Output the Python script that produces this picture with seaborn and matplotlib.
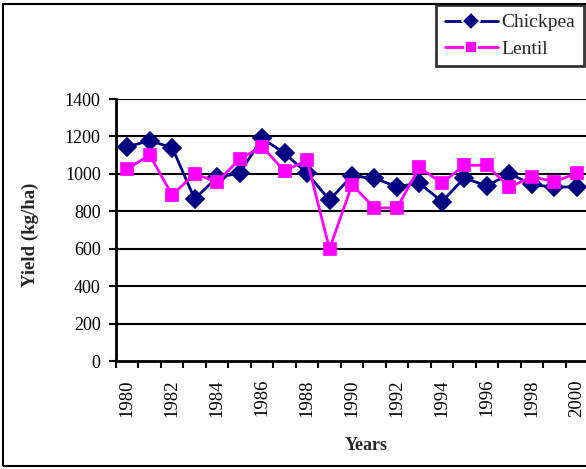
import matplotlib
matplotlib.use("Agg")
import matplotlib.pyplot as plt
import matplotlib.patches as mpatches
from matplotlib.ticker import FixedLocator
import seaborn as sns
import pandas as pd

years = list(range(1980, 2001))
chickpea = [1145, 1177, 1140, 866, 982, 1003, 1190, 1110, 1003, 860,
            989, 976, 932, 950, 852, 978, 935, 1000, 944, 928, 932]
lentil = [1026, 1101, 886, 1001, 955, 1080, 1145, 1015, 1073, 599,
          942, 818, 818, 1035, 950, 1046, 1046, 928, 985, 958, 1003]
series_names = ["Chickpea", "Lentil"]
y_ticks = [0, 200, 400, 600, 800, 1000, 1200, 1400]
x_tick_labels = [str(y) for y in range(1980, 2001, 2)]

df = pd.DataFrame({
    "Year": years * 2,
    "Yield": chickpea + lentil,
    "Crop": [series_names[0]] * len(years) + [series_names[1]] * len(years),
})

sns.set_theme(style="white")
plt.rcParams["font.family"] = ["Liberation Serif", "DejaVu Serif"]

fig = plt.figure(figsize=(5.86, 4.69), dpi=100)
ax = fig.add_axes([116 / 586, (469 - 361) / 469, 472 / 586, 262 / 469])

palette = {"Chickpea": "#000080", "Lentil": "#FF00FF"}
sns.lineplot(data=df, x="Year", y="Yield", hue="Crop", style="Crop",
             markers={"Chickpea": "D", "Lentil": "s"}, dashes=False,
             palette=palette, linewidth=2.0, markersize=9,
             markeredgewidth=1.2, ax=ax, legend=True)
for ln, c in zip(ax.lines, ["#000080", "#FF00FF"]):
    ln.set_markeredgecolor(c)
    ln.set_markerfacecolor(c)
    ln.set_zorder(5)

ax.set_ylim(0, 1400)
ax.set_xlim(1979.5, 2000.5)
ax.set_yticks(y_ticks)
ax.set_yticklabels([str(v) for v in y_ticks], fontsize=13)
ax.set_xticks(list(range(1980, 2001, 2)))
ax.set_xticklabels(x_tick_labels, rotation=90, fontsize=13.5)
ax.xaxis.set_minor_locator(FixedLocator([1979.5 + k for k in range(22)]))
ax.tick_params(axis="x", which="major", length=0, pad=13, colors="black")
ax.tick_params(axis="x", which="minor", length=5, width=1.5, direction="out",
               bottom=True, color="black")
ax.tick_params(axis="y", which="major", length=5, width=1.5, direction="out",
               left=True, pad=6, colors="black")

ax.grid(False)
for v in y_ticks[1:]:
    ax.axhline(v, color="black", linewidth=1.5, zorder=1)

for side in ["top", "right"]:
    ax.spines[side].set_visible(False)
for side in ["left", "bottom"]:
    ax.spines[side].set_color("black")
    ax.spines[side].set_linewidth(2)

ax.set_xlabel("Years", fontsize=13, fontweight="bold")
ax.xaxis.set_label_coords((366 - 116) / 472, (361 - 437) / 262)
ax.set_ylabel("Yield (kg/ha)", fontsize=13.5, fontweight="bold")
ax.yaxis.set_label_coords((39 - 116) / 472, (361 - 235) / 262)

handles, labels = ax.get_legend_handles_labels()
ax.get_legend().remove()
leg = fig.legend(handles, labels, loc="upper right",
                 bbox_to_anchor=(584 / 586, (469 - 5) / 469),
                 fontsize=14, frameon=True, fancybox=False, shadow=False,
                 handlelength=2.7, handletextpad=0.2, borderpad=0.45,
                 labelspacing=0.45, borderaxespad=0)
leg.get_frame().set_edgecolor("black")
leg.get_frame().set_linewidth(2)

fig.patches.append(mpatches.Rectangle((3 / 586, 3 / 469), 590 / 586, 462 / 469,
                                      transform=fig.transFigure, fill=False,
                                      edgecolor="black", linewidth=1.5))

fig.savefig("out.png", dpi=100)
